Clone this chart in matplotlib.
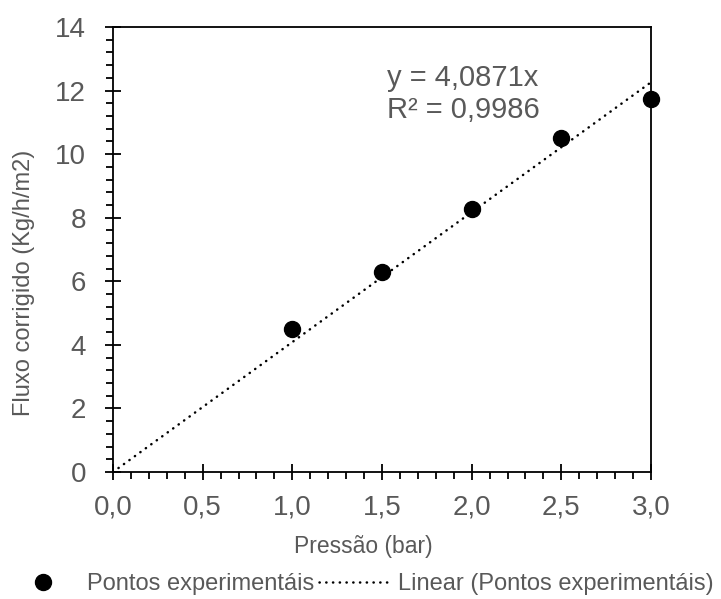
import matplotlib
matplotlib.use("Agg")
import matplotlib.pyplot as plt
from matplotlib.ticker import MultipleLocator, FuncFormatter
import numpy as np

plt.rcParams['font.family'] = ['Liberation Sans', 'DejaVu Sans']

# pressão (bar) vs fluxo corrigido
pressao = [1.0, 1.5, 2.0, 2.5, 3.0]
fluxo = [4.5, 6.28, 8.28, 10.5, 11.75]
slope = 4.0871
r2 = 0.9986

grey = '#595959'
W, H = 721, 599

fig = plt.figure(figsize=(W / 100, H / 100), dpi=100)
ax = fig.add_axes([113 / W, 1 - 472 / H, 538 / W, 445 / H])

xs = np.array([0.0, 3.0])
trend, = ax.plot(xs, slope * xs, color='black', lw=1.8,
                 linestyle=(0, (0.1, 2.6)), dash_capstyle='round',
                 label='Linear (Pontos experimentáis)')
pts, = ax.plot(pressao, fluxo, 'o', color='black', markersize=11.5,
               label='Pontos experimentáis', zorder=3, clip_on=False)

ax.set_xlim(0, 3.0)
ax.set_ylim(0, 14)
ax.xaxis.set_major_locator(MultipleLocator(0.5))
ax.xaxis.set_minor_locator(MultipleLocator(0.1))
ax.yaxis.set_major_locator(MultipleLocator(2))
ax.yaxis.set_minor_locator(MultipleLocator(0.4))
ax.xaxis.set_major_formatter(FuncFormatter(lambda v, p: f"{v:.1f}".replace('.', ',')))
ax.yaxis.set_major_formatter(FuncFormatter(lambda v, p: f"{int(round(v))}"))

ax.tick_params(which='major', direction='inout', length=11, width=1.3,
               labelsize=20, labelcolor=grey)
ax.tick_params(axis='x', which='major', pad=11)
ax.tick_params(axis='y', which='major', pad=14)
ax.tick_params(which='minor', direction='out', length=5, width=1.3)
for s in ax.spines.values():
    s.set_linewidth(1.3)

# axis titles
fig.text(363 / W, 1 - 546 / H, 'Pressão (bar)', fontsize=16.5, color=grey,
         ha='center', va='center')
fig.text(24 / W, 1 - 283 / H, 'Fluxo corrigido (Kg/h/m2)', fontsize=17,
         color=grey, ha='center', va='center', rotation=90)

ax.text(1.53, 11.9, f"y = {slope:.4f}x\nR² = {r2:.4f}".replace('.', ','),
        fontsize=21, color=grey, ha='left', va='center', linespacing=1.2)

fig.legend(handles=[pts, trend], loc='center', bbox_to_anchor=(0.5, 1 - 584 / H),
           ncol=2, frameon=False, fontsize=17, labelcolor=grey, borderpad=0,
           handlelength=3.1, handletextpad=0.28, columnspacing=0.2)

fig.savefig('out.png', dpi=100)
